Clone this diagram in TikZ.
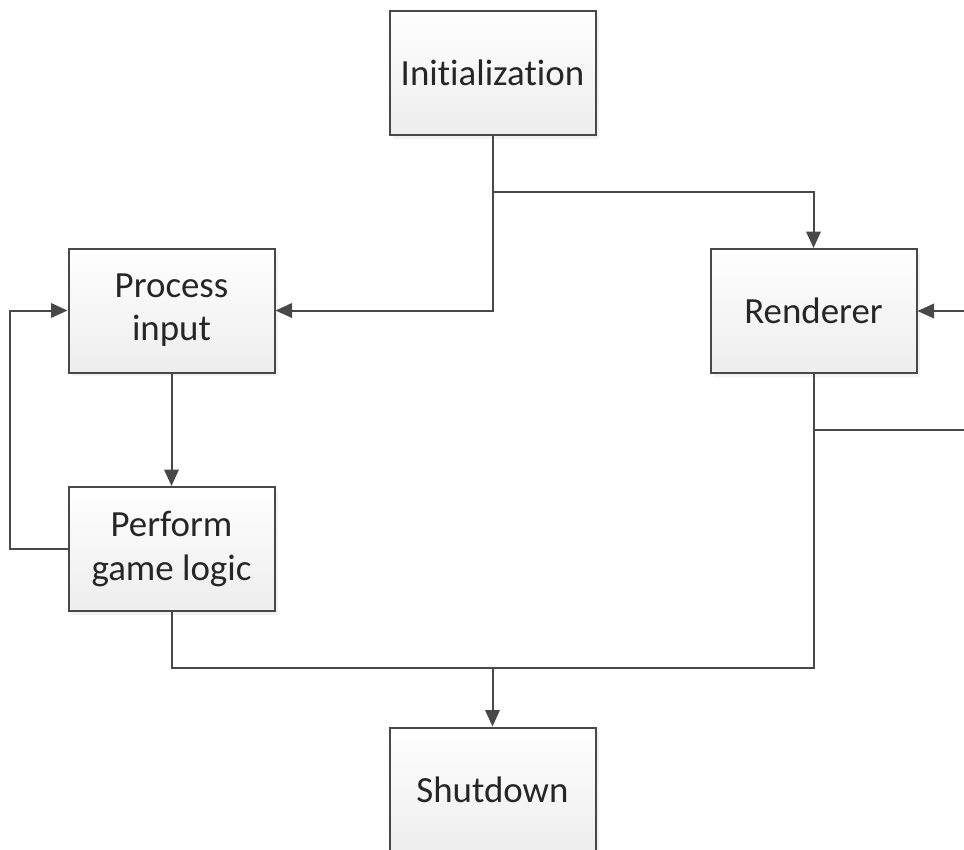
\documentclass[tikz,border=0pt]{standalone}
\usepackage{fontspec}
\setmainfont{Carlito}[Ligatures=NoCommon]
\usepackage{xcolor}
\usepackage{tikz}
\usetikzlibrary{arrows.meta, positioning, calc, shadows}

\definecolor{LineGray}{RGB}{72,72,72}

\tikzset{
  stagebox/.style={draw=LineGray, line width=0.04cm, top color=white, bottom color=black!7,
        minimum width=4.12cm, minimum height=2.48cm, inner sep=2pt, align=center,
        font=\fontsize{21}{24.5}\selectfont, text=black!85,
        drop shadow={shadow xshift=0.07cm, shadow yshift=-0.07cm, fill=black!10}},
  wire/.style={draw=LineGray, line width=0.04cm},
  flow/.style={wire, -{Triangle[length=0.33cm, width=0.29cm]}, color=LineGray}
}

\begin{document}
\begin{tikzpicture}
  \useasboundingbox (0,0) rectangle (19.28,-17);

  % stages of the loop
  \node[stagebox] (init)  at (9.85,-1.46)  {Initialization};
  \node[stagebox] (proc)  at (3.43,-6.21)  {Process\\input};
  \node[stagebox] (rend)  at (16.27,-6.22) {Renderer};
  \node[stagebox] (logic) at (3.43,-10.98) {Perform\\game logic};
  \node[stagebox] (shut)  at (9.85,-15.79) {Shutdown};

  % junction points
  \coordinate (split) at ($(init.south)+(0,-1.12)$);
  \coordinate (merge) at (rend.south |- 0,-13.36);
  \coordinate (loopL) at (0.2,-8.6);
  \coordinate (tap)   at (rend.south |- 0,-8.6);
  \coordinate (loopR) at (19.7,-8.6);

  \draw[flow] (init.south) |- (proc.east);
  \draw[flow] (split) -| (rend.north);
  \draw[flow] (proc) -- (logic);
  \draw[flow] (logic.west) -| (loopL) |- (proc.west);
  \draw[wire] (logic.south) |- (merge) -- (rend.south);
  \draw[flow] (shut.north |- merge) -- (shut.north);
  \draw[flow] (tap) -- (loopR) |- (rend.east);
\end{tikzpicture}
\end{document}
